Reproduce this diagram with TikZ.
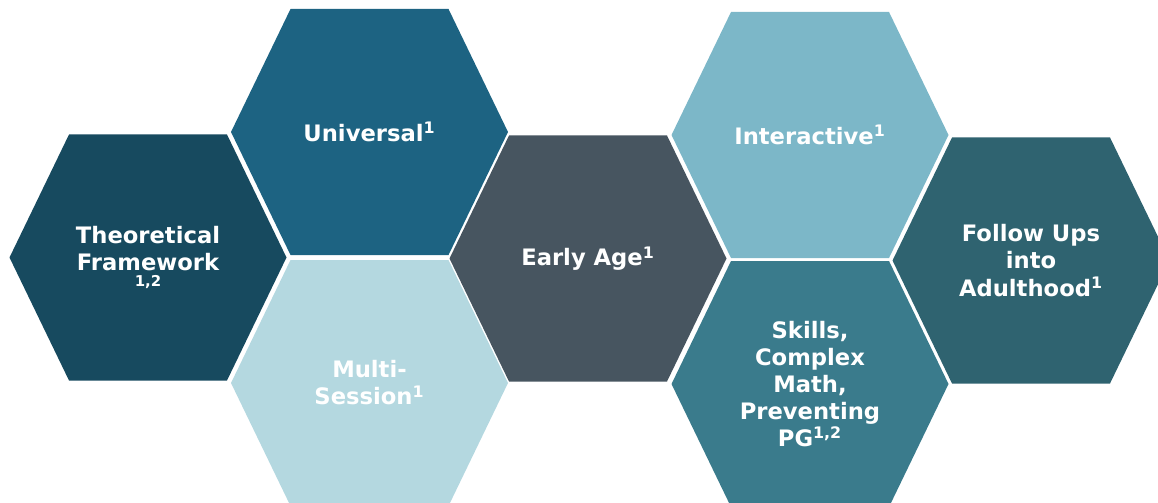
\documentclass[tikz,border=0pt]{standalone}
\usepackage{fontspec}
\setmainfont{DejaVu Sans}
\definecolor{hexnavy}{HTML}{174A5F}
\definecolor{hexblue}{HTML}{1D6382}
\definecolor{hexpale}{HTML}{B4D8E0}
\definecolor{hexslate}{HTML}{475560}
\definecolor{hexsky}{HTML}{7CB7C8}
\definecolor{hexteal}{HTML}{3A7B8C}
\definecolor{hexdeep}{HTML}{2F6370}
\tikzset{
  hexlabel/.style={text=white, font=\bfseries\fontsize{12.9}{15.4}\selectfont, align=center, inner sep=0pt},
}
% one cell: centre, colour, name, text
\newcommand\hexcell[4]{%
  \fill[#2] (#1) ++(-138.5,0) -- ++(59.5,-123) -- ++(158,0) -- ++(59.5,123)
    -- ++(-59.5,123) -- ++(-158,0) -- cycle;
  \node[hexlabel] (#3) at (#1) {#4};
}
\begin{document}
\begin{tikzpicture}[x=0.02cm, y=-0.02cm]
   		\useasboundingbox (0,0) rectangle (1158,503);
   		\clip (0,0) rectangle (1158,503);
   		\hexcell{148,257.5}{hexnavy}{theory}{Theoretical\\Framework\\[-6pt]{\fontsize{8.5}{9}\selectfont 1,2}}
   		\hexcell{369.5,132}{hexblue}{universal}{Universal\textsuperscript{1}}
   		\hexcell{369.5,383}{hexpale}{multi}{Multi-\\Session\textsuperscript{1}}
   		\hexcell{588,258.5}{hexslate}{early}{Early Age\textsuperscript{1}}
   		\hexcell{810,135}{hexsky}{interactive}{Interactive\textsuperscript{1}}
   		\hexcell{810,384}{hexteal}{skills}{Skills,\\Complex\\Math,\\Preventing\\PG\textsuperscript{1,2}}
   		\hexcell{1031,260.5}{hexdeep}{followups}{Follow Ups\\into\\Adulthood\textsuperscript{1}}
   	\end{tikzpicture}
\end{document}
